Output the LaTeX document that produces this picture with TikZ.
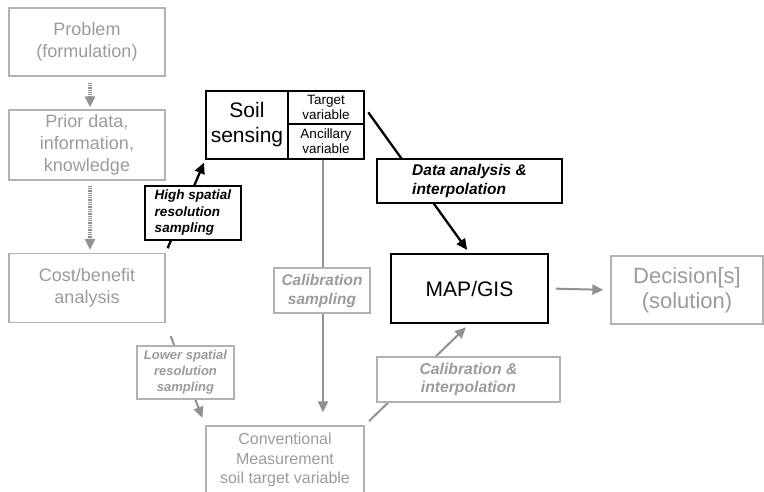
\documentclass[tikz,border=0pt]{standalone}
\usepackage{fontspec}
\setmainfont{Liberation Sans}
\usetikzlibrary{arrows.meta, positioning, calc}
\definecolor{boxgray}{RGB}{178,178,178}
\definecolor{textgray}{RGB}{155,155,155}
\definecolor{arrowgray}{RGB}{145,145,145}

\tikzset{
  stage/.style={draw=boxgray, line width=1.3pt, text=textgray, align=center,
    inner sep=0pt, font=\fontsize{18}{22}\selectfont},
  keybox/.style={draw=black, line width=1.6pt, align=center, inner sep=0pt},
  tag/.style={draw=black, line width=1.2pt, fill=white, align=center, inner sep=0pt,
    font=\bfseries\itshape\fontsize{13.5}{16.5}\selectfont},
  paletag/.style={tag, draw=boxgray, text=textgray},
  flow/.style={-{Triangle[length=11pt,width=10pt]}, line width=2.3pt},
  paleflow/.style={flow, draw=arrowgray, fill=arrowgray, line width=2pt},
  hatch/.style={paleflow, dash pattern=on 1.3pt off 1pt, line width=3.5pt}
}

\begin{document}
\begin{tikzpicture}[x=1pt, y=-1pt]
        \useasboundingbox (0,0) rectangle (764,491);
        % Left column (pale)
        \node [stage, minimum width=156, minimum height=68] (problem) at (87,42) {Problem\\(formulation)};
        \node [stage, minimum width=156, minimum height=70] (prior) at (87,145) {Prior data,\\information,\\knowledge};
        \node [stage, minimum width=156, minimum height=69] (cost) at (87,288) {Cost/benefit\\analysis};
        % Soil sensing block
        \node [keybox, minimum width=82, minimum height=68, font=\fontsize{21}{25}\selectfont] (soil) at (247,125) {Soil\\sensing};
        \node [keybox, minimum width=76, minimum height=33, font=\fontsize{13.5}{15}\selectfont] (target) at (326,107.5) {Target\\variable};
        \node [keybox, minimum width=76, minimum height=35, font=\fontsize{13.5}{15}\selectfont] (ancillary) at (326,141.5) {Ancillary\\variable};
        % Map and decision
        \node [keybox, minimum width=157, minimum height=69, font=\fontsize{21}{24}\selectfont] (map) at (469.5,288.5) {MAP/GIS};
        \node [stage, minimum width=152, minimum height=68, font=\fontsize{22}{25}\selectfont] (decision) at (687,290) {Decision[s]\\(solution)};
        % Field measurement
        \node [stage, minimum width=158, minimum height=68, font=\fontsize{16}{19.5}\selectfont] (conv) at (285,460) {Conventional\\Measurement\\soil target variable};
        % Connectors
        \draw [hatch, shorten <=6pt, shorten >=2pt] ([xshift=3pt]problem.south) -- ([xshift=3pt]prior.north);
        \draw [hatch, shorten <=5pt, shorten >=3pt] ([xshift=3pt]prior.south) -- ([xshift=3pt]cost.north);
        \draw [flow, shorten <=5pt, shorten >=3pt] (cost.north east) -- (soil.south west);
        \draw [flow, shorten <=6pt, shorten >=4pt] (target.east) -- (map.north);
        \draw [paleflow, shorten >=13pt] ([xshift=-3pt]ancillary.south) -- ([xshift=-3pt]ancillary.south |- conv.north);
        \draw [paleflow, shorten <=14pt, shorten >=8pt] (cost.south east) -- (conv.north west);
        \draw [paleflow, shorten <=6pt, shorten >=5pt] (conv.north east) -- (map.south);
        \draw [paleflow, shorten <=7pt, shorten >=7pt] (map.east) -- (decision.west);
        % Labels on the connectors
        \node [tag, align=left, minimum width=96, minimum height=54] (highres) at (193,213) {High spatial\\resolution\\sampling};
        \node [tag, align=left, minimum width=185, minimum height=44, font=\bfseries\itshape\fontsize{15.5}{19}\selectfont] (analysis) at (469.5,181) {Data analysis \&\\interpolation};
        \node [paletag, minimum width=96, minimum height=45, font=\bfseries\itshape\fontsize{15.5}{19}\selectfont] (calsamp) at (322,290.5) {Calibration\\sampling};
        \node [paletag, minimum width=97, minimum height=53, font=\bfseries\itshape\fontsize{13}{16}\selectfont] (lowres) at (185.5,372.5) {Lower spatial\\resolution\\sampling};
        \node [paletag, minimum width=183, minimum height=45, font=\bfseries\itshape\fontsize{15.7}{18.5}\selectfont] (calinterp) at (468.5,379.5) {Calibration \&\\interpolation};
    \end{tikzpicture}
\end{document}
